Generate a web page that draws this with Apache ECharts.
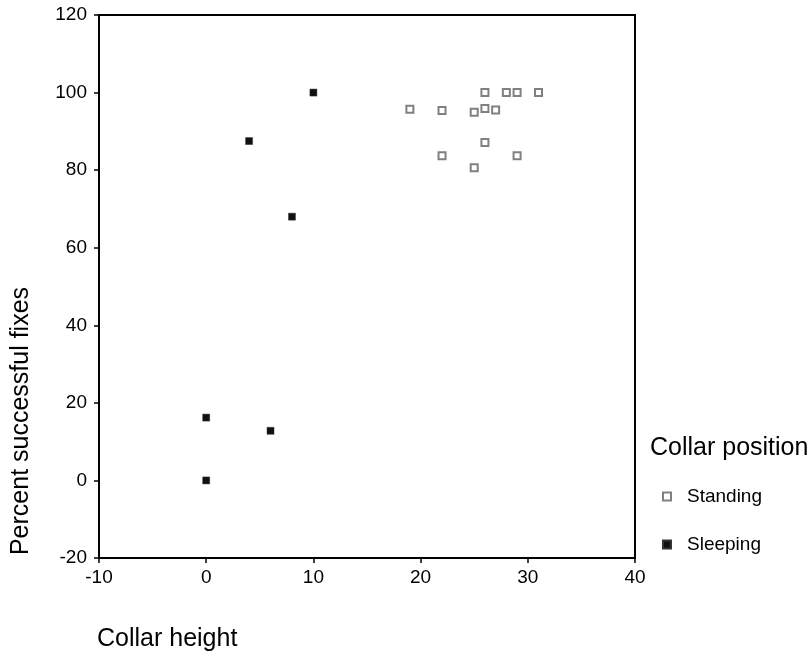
<!DOCTYPE html>
<html>
<head>
<meta charset="utf-8">
<title>Collar height vs percent successful fixes</title>
<script src="https://cdn.jsdelivr.net/npm/echarts@6/dist/echarts.min.js"></script>
<style>
    html, body { margin: 0; padding: 0; background: #fff; }
    #chart { width: 811px; height: 658px; }
</style>
</head>
<body>
<div id="chart"></div>
<script>
// standing collars
var standingHeight = [19, 22, 25, 26, 27, 26, 28, 29, 31, 26, 22, 29, 25];
var standingFixes = [95.7, 95.4, 94.9, 95.9, 95.5, 100, 100, 100, 100, 87.1, 83.7, 83.7, 80.6];
// sleeping collars
var sleepingHeight = [10, 4, 8, 0, 6, 0];
var sleepingFixes = [100, 87.5, 68, 16.2, 12.8, 0];
// axis ticks
var xTicks = [-10, 0, 10, 20, 30, 40];
var yTicks = [-20, 0, 20, 40, 60, 80, 100, 120];
var seriesNames = ["Standing", "Sleeping"];

var FONT = "'Liberation Sans', Arial, sans-serif";

var toPairs = function (xs, ys) {
    var arr = [];
    for (var i = 0; i < xs.length; i++) {
        arr.push([xs[i], ys[i]]);
    }
    return arr;
};

var axisCommon = function (ticks) {
    return {
        type: "value",
        min: ticks[0],
        max: ticks[ticks.length - 1],
        interval: ticks[1] - ticks[0],
        splitLine: { show: false },
        axisLine: { show: true, onZero: false, lineStyle: { color: "#000", width: 2 } },
        axisTick: { show: true, inside: false, length: 5, lineStyle: { color: "#000", width: 1.5 } },
        axisLabel: { color: "#000", fontSize: 19, fontFamily: FONT }
    };
};

var xAxis = axisCommon(xTicks);
xAxis.axisLabel.margin = 10;
var yAxis = axisCommon(yTicks);
yAxis.axisLabel.margin = 12;

var myChart = echarts.init(document.getElementById("chart"), null, { renderer: "canvas" });
myChart.setOption({
    animation: false,
    backgroundColor: "#fff",
    grid: {
        left: 99,
        right: 176,
        top: 15,
        bottom: 100,
        show: true,
        borderColor: "#000",
        borderWidth: 2,
        outerBoundsMode: "none"
    },
    xAxis: xAxis,
    yAxis: yAxis,
    legend: {
        data: seriesNames,
        orient: "vertical",
        left: 662,
        top: 487,
        padding: 0,
        itemWidth: 8,
        itemHeight: 8,
        itemGap: 29,
        textStyle: { color: "#000", fontSize: 19, fontFamily: FONT, padding: [0, 0, 0, 11] }
    },
    graphic: [{
        type: "text",
        left: 97,
        top: 627,
        style: { text: "Collar height", fill: "#000", font: "25px " + FONT }
    }, {
        type: "text",
        x: 21,
        y: 421,
        rotation: Math.PI / 2,
        style: { text: "Percent successful fixes", fill: "#000", font: "25px " + FONT, align: "center", verticalAlign: "middle" }
    }, {
        type: "text",
        left: 650,
        top: 436,
        style: { text: "Collar position", fill: "#000", font: "25px " + FONT }
    }],
    series: [{
        name: seriesNames[0],
        type: "scatter",
        symbol: "rect",
        symbolSize: 7,
        itemStyle: { color: "#fff", borderColor: "#808080", borderWidth: 2, opacity: 1 },
        data: toPairs(standingHeight, standingFixes)
    }, {
        name: seriesNames[1],
        type: "scatter",
        symbol: "rect",
        symbolSize: 7,
        itemStyle: { color: "#111", borderColor: "#333", borderWidth: 0.5, opacity: 1 },
        data: toPairs(sleepingHeight, sleepingFixes)
    }]
});
</script>
</body>
</html>
